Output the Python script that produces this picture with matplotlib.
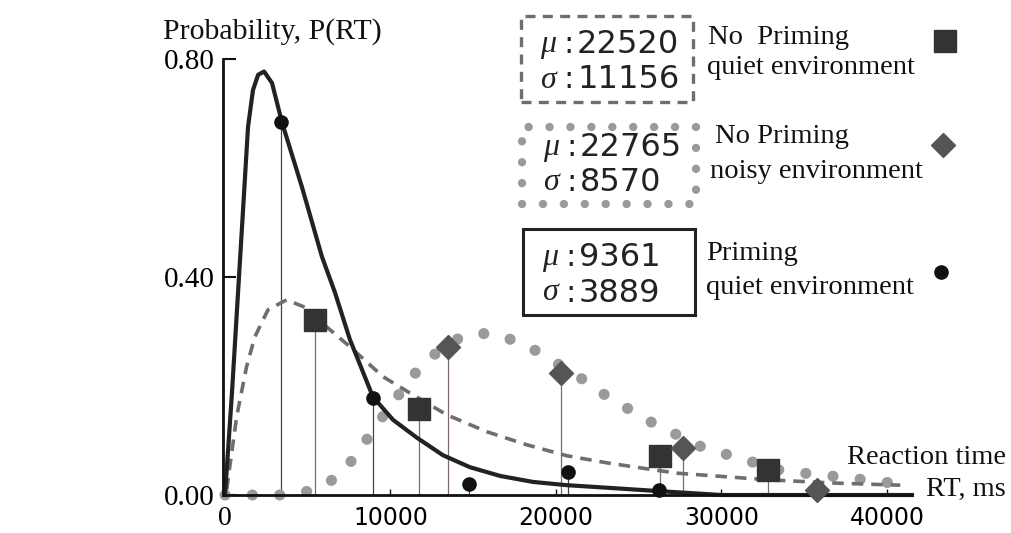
import matplotlib
matplotlib.use("Agg")
import matplotlib.pyplot as plt
from matplotlib.patches import Rectangle
from matplotlib.lines import Line2D

W, H = 1012, 533

# ---- data ----
solid_x = [0, 420, 785, 1090, 1390, 1690, 2000, 2360, 2840, 3440, 4650, 5860, 6650,
           7550, 8940, 10150, 11600, 13170, 14800, 16620, 18610, 20660, 23260, 26280, 30000, 41500]
solid_y = [0, 0.187, 0.37, 0.523, 0.675, 0.743, 0.771, 0.777, 0.756, 0.684, 0.565, 0.437, 0.371,
           0.285, 0.18, 0.138, 0.105, 0.073, 0.051, 0.035, 0.024, 0.018, 0.013, 0.007, 0.0, 0.0]

dash_x = [100, 700, 1300, 1800, 2600, 3720, 4950, 6160, 7550, 9550, 11180, 13410, 15830,
          18250, 20660, 23080, 25500, 27310, 28700, 32750, 36740, 40800]
dash_y = [0.01, 0.143, 0.235, 0.29, 0.34, 0.358, 0.343, 0.308, 0.272, 0.217, 0.187, 0.147, 0.116,
          0.092, 0.072, 0.059, 0.048, 0.04, 0.037, 0.028, 0.022, 0.018]

dot_x = [0, 4100, 5260, 6400, 7370, 8160, 8880, 9670, 10450, 11300, 12270, 13410, 14500, 16130,
         17700, 19030, 20240, 21570, 22780, 23990, 25200, 26280, 27490, 28820, 30030, 31240,
         33720, 34990, 36190, 37460, 38730, 39820, 40970]
dot_y = [0, 0, 0.009, 0.026, 0.052, 0.083, 0.116, 0.15, 0.182, 0.217, 0.249, 0.275, 0.294, 0.297,
         0.281, 0.261, 0.238, 0.213, 0.187, 0.165, 0.143, 0.125, 0.108, 0.088, 0.077, 0.066,
         0.044, 0.04, 0.037, 0.031, 0.028, 0.024, 0.018]

circ_x = [3380, 8940, 14750, 20730, 26230]
circ_y = [0.684, 0.178, 0.02, 0.042, 0.009]
sq_x = [5440, 11720, 26280, 32810]
sq_y = [0.321, 0.158, 0.072, 0.046]
dia_x = [13470, 20300, 27670, 35800]
dia_y = [0.272, 0.224, 0.086, 0.01]

x_ticks = [0, 10000, 20000, 30000, 40000]
x_tick_labels = ["0", "10000", "20000", "30000", "40000"]
y_ticks = [0.0, 0.4, 0.8]
y_tick_labels = ["0.00", "0.40", "0.80"]

legend_mu = ["22520", "22765", "9361"]
legend_sigma = ["11156", "8570", "3889"]
legend_line1 = ["No  Priming", "No Priming", "Priming"]
legend_line2 = ["quiet environment", "noisy environment", "quiet environment"]

# ---- figure ----
fig = plt.figure(figsize=(W / 100, H / 100), dpi=100)
fig.patch.set_facecolor("white")

def fx(px):
    return px / W

def fy(py):
    return 1 - py / H

x0px, xendpx, y0px, ytoppx = 223, 912, 495, 59
px_per_ms = 165.5 / 10000
xmin = (x0px - 225) / px_per_ms
xmax = (xendpx - 225) / px_per_ms
ax = fig.add_axes([fx(x0px), fy(y0px), (xendpx - x0px) / W, (y0px - ytoppx) / H])
ax.set_xlim(xmin, xmax)
ax.set_ylim(0, 0.8)
for s in ["top", "right"]:
    ax.spines[s].set_visible(False)
for s in ["left", "bottom"]:
    ax.spines[s].set_linewidth(2.0)
    ax.spines[s].set_color("#111111")
    ax.spines[s].set_zorder(6)

serif = "Liberation Serif"
sans = "DejaVu Sans"

ax.set_yticks(y_ticks)
ax.set_yticklabels(y_tick_labels, fontfamily=serif, fontsize=21)
ax.tick_params(axis="y", direction="in", length=9, width=1.5, pad=6, color="#111111")
ax.set_xticks(x_ticks)
ax.set_xticklabels(x_tick_labels, fontfamily=sans, fontsize=17)
ax.xaxis.get_ticklabels()[0].set_fontfamily(serif)
ax.xaxis.get_ticklabels()[0].set_fontsize(20)
ax.tick_params(axis="x", direction="in", length=4, width=1, pad=8, color="#111111")

# stems
ax.vlines(circ_x, 0, circ_y, colors="#444444", lw=0.9, zorder=2)
ax.vlines(sq_x, 0, sq_y, colors="#7d6a6a", lw=0.9, zorder=2)
ax.vlines(dia_x, 0, dia_y, colors="#7d6a6a", lw=0.9, zorder=2)

# curves
ax.plot(dot_x, dot_y, color="#9a9a9a", lw=8.0, linestyle=(0, (0.01, 2.45)),
        dash_capstyle="round", clip_on=False, zorder=3)
ax.plot(dash_x, dash_y, color="#6e6e6e", lw=2.6, linestyle=(0, (3.2, 2.2)),
        clip_on=False, zorder=4)
ax.plot(solid_x, solid_y, color="#222222", lw=3.0, clip_on=False, zorder=5,
        solid_joinstyle="round")

# markers
ax.plot(sq_x, sq_y, "s", color="#333333", ms=15.5, zorder=7, clip_on=False)
ax.plot(dia_x, dia_y, "D", color="#555555", ms=12, zorder=7, clip_on=False)
ax.plot(circ_x, circ_y, "o", color="#111111", ms=9.5, zorder=7, clip_on=False)

# axis annotations
fig.text(fx(163), fy(32), "Probability, P(RT)", fontfamily=serif, fontsize=21.5,
         ha="left", va="center", color="#111111")
fig.text(fx(1006), fy(457), "Reaction time", fontfamily=serif, fontsize=20.5,
         ha="right", va="center", color="#111111")
fig.text(fx(1006), fy(489), "RT, ms", fontfamily=serif, fontsize=20.5,
         ha="right", va="center", color="#111111")

# legend boxes
boxes = [
    dict(rect=(521, 16, 172, 86), ls=(0, (3.0, 2.2)), lw=2.4, color="#6e6e6e", cap="butt",
         y1=45, y2=80, mux=540, lx1=708, ly1=37, lx2=707, ly2=68,
         mk="s", mkx=945, mky=41, mkc="#333333", ms=15.5),
    dict(rect=(522, 127, 174, 77), ls=(0, (0.01, 2.5)), lw=6.0, color="#9a9a9a", cap="round",
         y1=147, y2=182, mux=543, lx1=715, ly1=137, lx2=710, ly2=172,
         mk="D", mkx=943, mky=145, mkc="#555555", ms=12),
    dict(rect=(523, 229, 172, 86), ls="-", lw=2.2, color="#222222", cap="butt",
         y1=258, y2=293, mux=542, lx1=706, ly1=253, lx2=706, ly2=288,
         mk="o", mkx=941, mky=272, mkc="#111111", ms=9.5),
]
for i, b in enumerate(boxes):
    x, y, w, h = b["rect"]
    r = Rectangle((fx(x), fy(y + h)), w / W, h / H, transform=fig.transFigure,
                  fill=False, edgecolor=b["color"], lw=b["lw"], linestyle=b["ls"],
                  capstyle=b["cap"])
    fig.add_artist(r)
    fig.text(fx(b["mux"]), fy(b["y1"]), "μ", fontfamily=serif, style="italic", fontsize=23,
             ha="left", va="center", color="#222222")
    fig.text(fx(b["mux"]), fy(b["y2"]), "σ", fontfamily=serif, style="italic", fontsize=23,
             ha="left", va="center", color="#222222")
    for yy, val in [(b["y1"], legend_mu[i]), (b["y2"], legend_sigma[i])]:
        fig.text(fx(b["mux"] + 29), fy(yy), ":", fontfamily=sans, fontsize=22,
                 ha="center", va="center", color="#222222")
        fig.text(fx(b["mux"] + 37), fy(yy), val, fontfamily=sans, fontsize=23,
                 ha="left", va="center", color="#222222")
    fig.text(fx(b["lx1"]), fy(b["ly1"]), legend_line1[i], fontfamily=serif, fontsize=20.5,
             ha="left", va="center", color="#111111")
    fig.text(fx(b["lx2"]), fy(b["ly2"]), legend_line2[i], fontfamily=serif, fontsize=20.5,
             ha="left", va="center", color="#111111")
    fig.add_artist(Line2D([fx(b["mkx"])], [fy(b["mky"])], marker=b["mk"], color=b["mkc"],
                          ms=b["ms"], transform=fig.transFigure, linestyle="none"))

fig.savefig("out.png", dpi=100, facecolor="white")
